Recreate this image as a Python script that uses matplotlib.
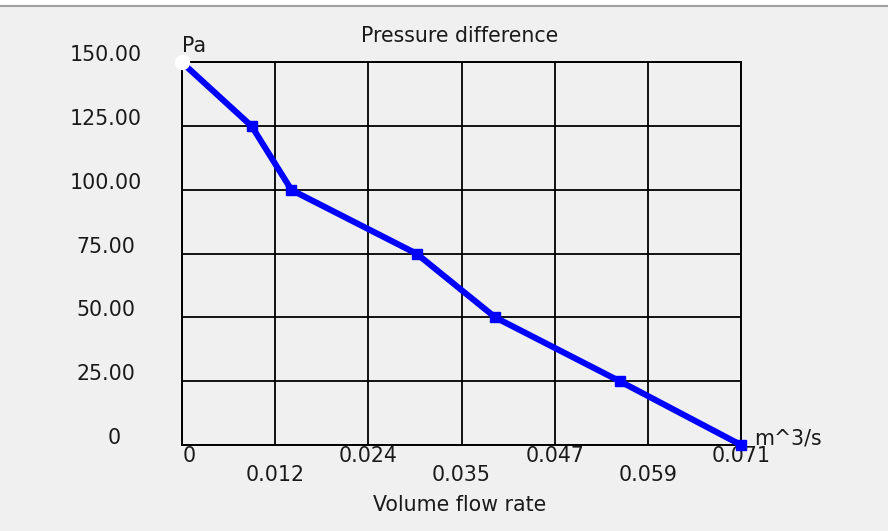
import matplotlib
matplotlib.use("Agg")
import matplotlib.pyplot as plt
import matplotlib.transforms as mtransforms
import numpy as np

# Fan curve: volume flow rate (m^3/s) vs pressure difference (Pa)
flow = [0.0, 0.00885, 0.0139, 0.0298, 0.0398, 0.0556, 0.071]
pressure = [150, 125, 100, 75, 50, 25, 0]

x_tick_labels = ["0", "0.012", "0.024", "0.035", "0.047", "0.059", "0.071"]
y_tick_values = [0, 25, 50, 75, 100, 125, 150]
y_tick_labels = ["0", "25.00", "50.00", "75.00", "100.00", "125.00", "150.00"]

bg = '#f0f0f0'
txt = '#1a1a1a'
fs = 14.8

fig = plt.figure(figsize=(8.88, 5.31), dpi=100, facecolor=bg)
ax = fig.add_axes([0.2050, 0.1620, 0.6295, 0.7203])
ax.set_facecolor(bg)

xmax = 0.071
x_ticks = np.linspace(0, xmax, len(x_tick_labels))
ax.set_xlim(0, xmax)
ax.set_ylim(0, 150)
ax.set_xticks(x_ticks)
ax.set_yticks(y_tick_values)
ax.tick_params(length=0, labelbottom=False, labelleft=False)
ax.grid(True, color='black', linewidth=1.3, zorder=1)
for s in ax.spines.values():
    s.set_color('black')
    s.set_linewidth(1.4)

# curve
ax.plot(flow, pressure, color='#0000ff', linewidth=4.4, zorder=3, clip_on=False)
ax.plot(flow[1:], pressure[1:], linestyle='none', marker='s', markersize=7.5,
        color='#0000ff', zorder=4, clip_on=False)
ax.plot(flow[0], pressure[0], linestyle='none', marker='o', markersize=10,
        color='white', markeredgecolor='white', zorder=5, clip_on=False)

# y labels (left of the axis, slightly above each gridline)
ytrans = mtransforms.blended_transform_factory(fig.transFigure, ax.transData)
for v, lab in zip(y_tick_values, y_tick_labels):
    xpos = 114.5 / 888 if lab == "0" else 105.5 / 888
    t = mtransforms.offset_copy(ytrans, fig=fig, x=0, y=7, units='dots')
    ax.text(xpos, v, lab, transform=t, ha='center', va='center',
            fontsize=fs, color=txt)

# x labels staggered in two rows
xtrans = mtransforms.blended_transform_factory(ax.transData, fig.transFigure)
for i, (v, lab) in enumerate(zip(x_ticks, x_tick_labels)):
    ypos = 1 - (456.5 if i % 2 == 0 else 475) / 531
    dx = 7.5 if lab == "0" else 0
    t = mtransforms.offset_copy(xtrans, fig=fig, x=dx, y=0, units='dots')
    ax.text(v, ypos, lab, transform=t, ha='center', va='center',
            fontsize=fs, color=txt)

fig.text(460 / 888, 1 - 36.5 / 531, 'Pressure difference', ha='center', va='center',
         fontsize=fs, color=txt)
fig.text(460 / 888, 1 - 505 / 531, 'Volume flow rate', ha='center', va='center',
         fontsize=fs, color=txt)
fig.text(182 / 888, 1 - 46 / 531, 'Pa', ha='left', va='center', fontsize=fs, color=txt)
fig.text(754 / 888, 1 - 439 / 531, 'm^3/s', ha='left', va='center', fontsize=fs, color=txt)

# window edge at the top
fig.patches.append(plt.Rectangle((0, 1 - 5 / 531), 1, 5 / 531, transform=fig.transFigure,
                                 facecolor='white', edgecolor='none'))
fig.lines.append(plt.Line2D([0, 1], [1 - 6 / 531, 1 - 6 / 531], transform=fig.transFigure,
                            color='#a0a0a0', linewidth=1.5))

fig.savefig('out.png', dpi=100, facecolor=bg)
